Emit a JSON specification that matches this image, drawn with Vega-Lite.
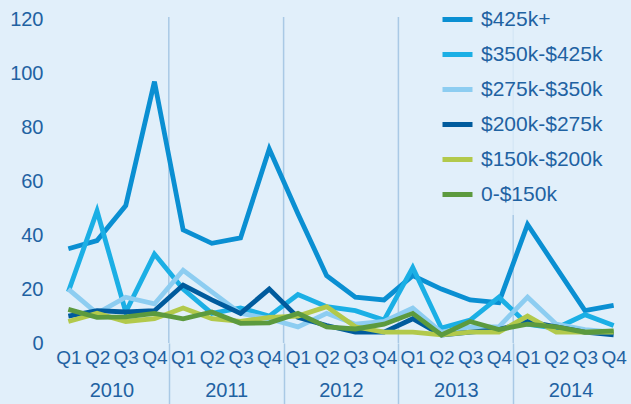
{
  "$schema": "https://vega.github.io/schema/vega-lite/v6.json",
  "width": 574,
  "height": 326,
  "autosize": {"type": "none"},
  "padding": {"left": 54, "top": 17, "right": 3, "bottom": 61},
  "background": "#E1EFFA",
  "config": {
    "view": {"stroke": null},
    "font": "Liberation Sans",
    "axis": {"labelColor": "#1F62A2", "labelFont": "Liberation Sans", "title": null, "domain": false, "ticks": false, "grid": false}
  },
  "datasets": {
    "series": [
      {"q":0,"s":"$425k+","v":35},{"q":1,"s":"$425k+","v":38},{"q":2,"s":"$425k+","v":51},{"q":3,"s":"$425k+","v":97},
      {"q":4,"s":"$425k+","v":42},{"q":5,"s":"$425k+","v":37},{"q":6,"s":"$425k+","v":39},{"q":7,"s":"$425k+","v":72},
      {"q":8,"s":"$425k+","v":48},{"q":9,"s":"$425k+","v":25},{"q":10,"s":"$425k+","v":17},{"q":11,"s":"$425k+","v":16},
      {"q":12,"s":"$425k+","v":25},{"q":13,"s":"$425k+","v":20},{"q":14,"s":"$425k+","v":16},{"q":15,"s":"$425k+","v":15},
      {"q":16,"s":"$425k+","v":44},{"q":17,"s":"$425k+","v":28},{"q":18,"s":"$425k+","v":12},{"q":19,"s":"$425k+","v":14},

      {"q":0,"s":"$350k-$425k","v":19},{"q":1,"s":"$350k-$425k","v":49},{"q":2,"s":"$350k-$425k","v":11.5},{"q":3,"s":"$350k-$425k","v":33},
      {"q":4,"s":"$350k-$425k","v":20},{"q":5,"s":"$350k-$425k","v":11},{"q":6,"s":"$350k-$425k","v":13},{"q":7,"s":"$350k-$425k","v":10},
      {"q":8,"s":"$350k-$425k","v":18},{"q":9,"s":"$350k-$425k","v":13.5},{"q":10,"s":"$350k-$425k","v":12},{"q":11,"s":"$350k-$425k","v":8.5},
      {"q":12,"s":"$350k-$425k","v":28},{"q":13,"s":"$350k-$425k","v":5.5},{"q":14,"s":"$350k-$425k","v":8.5},{"q":15,"s":"$350k-$425k","v":17},
      {"q":16,"s":"$350k-$425k","v":7},{"q":17,"s":"$350k-$425k","v":5.5},{"q":18,"s":"$350k-$425k","v":10.5},{"q":19,"s":"$350k-$425k","v":6.5},

      {"q":0,"s":"$275k-$350k","v":20},{"q":1,"s":"$275k-$350k","v":11},{"q":2,"s":"$275k-$350k","v":17},{"q":3,"s":"$275k-$350k","v":14.5},
      {"q":4,"s":"$275k-$350k","v":27},{"q":5,"s":"$275k-$350k","v":19},{"q":6,"s":"$275k-$350k","v":11},{"q":7,"s":"$275k-$350k","v":9},
      {"q":8,"s":"$275k-$350k","v":6},{"q":9,"s":"$275k-$350k","v":11},{"q":10,"s":"$275k-$350k","v":7},{"q":11,"s":"$275k-$350k","v":8},
      {"q":12,"s":"$275k-$350k","v":13},{"q":13,"s":"$275k-$350k","v":4},{"q":14,"s":"$275k-$350k","v":6},{"q":15,"s":"$275k-$350k","v":6},
      {"q":16,"s":"$275k-$350k","v":17},{"q":17,"s":"$275k-$350k","v":7},{"q":18,"s":"$275k-$350k","v":5},{"q":19,"s":"$275k-$350k","v":4},

      {"q":0,"s":"$200k-$275k","v":10},{"q":1,"s":"$200k-$275k","v":12},{"q":2,"s":"$200k-$275k","v":11.5},{"q":3,"s":"$200k-$275k","v":12},
      {"q":4,"s":"$200k-$275k","v":21.5},{"q":5,"s":"$200k-$275k","v":16},{"q":6,"s":"$200k-$275k","v":11},{"q":7,"s":"$200k-$275k","v":20},
      {"q":8,"s":"$200k-$275k","v":9.5},{"q":9,"s":"$200k-$275k","v":6.5},{"q":10,"s":"$200k-$275k","v":4},{"q":11,"s":"$200k-$275k","v":4},
      {"q":12,"s":"$200k-$275k","v":9},{"q":13,"s":"$200k-$275k","v":3},{"q":14,"s":"$200k-$275k","v":4},{"q":15,"s":"$200k-$275k","v":5},
      {"q":16,"s":"$200k-$275k","v":8},{"q":17,"s":"$200k-$275k","v":6},{"q":18,"s":"$200k-$275k","v":4},{"q":19,"s":"$200k-$275k","v":3},

      {"q":0,"s":"$150k-$200k","v":8},{"q":1,"s":"$150k-$200k","v":11},{"q":2,"s":"$150k-$200k","v":8},{"q":3,"s":"$150k-$200k","v":9},
      {"q":4,"s":"$150k-$200k","v":13},{"q":5,"s":"$150k-$200k","v":9},{"q":6,"s":"$150k-$200k","v":8},{"q":7,"s":"$150k-$200k","v":9.5},
      {"q":8,"s":"$150k-$200k","v":10},{"q":9,"s":"$150k-$200k","v":13.5},{"q":10,"s":"$150k-$200k","v":6},{"q":11,"s":"$150k-$200k","v":4},
      {"q":12,"s":"$150k-$200k","v":4},{"q":13,"s":"$150k-$200k","v":3},{"q":14,"s":"$150k-$200k","v":4},{"q":15,"s":"$150k-$200k","v":4},
      {"q":16,"s":"$150k-$200k","v":10},{"q":17,"s":"$150k-$200k","v":4},{"q":18,"s":"$150k-$200k","v":4},{"q":19,"s":"$150k-$200k","v":4},

      {"q":0,"s":"0-$150k","v":12.5},{"q":1,"s":"0-$150k","v":9.5},{"q":2,"s":"0-$150k","v":9.7},{"q":3,"s":"0-$150k","v":11},
      {"q":4,"s":"0-$150k","v":9},{"q":5,"s":"0-$150k","v":11.5},{"q":6,"s":"0-$150k","v":7.3},{"q":7,"s":"0-$150k","v":7.5},
      {"q":8,"s":"0-$150k","v":11},{"q":9,"s":"0-$150k","v":6},{"q":10,"s":"0-$150k","v":5.2},{"q":11,"s":"0-$150k","v":7},
      {"q":12,"s":"0-$150k","v":11},{"q":13,"s":"0-$150k","v":3},{"q":14,"s":"0-$150k","v":8},{"q":15,"s":"0-$150k","v":5},
      {"q":16,"s":"0-$150k","v":7},{"q":17,"s":"0-$150k","v":6},{"q":18,"s":"0-$150k","v":4},{"q":19,"s":"0-$150k","v":4.5}
    ],
    "years": [
      {"c":1.5,"year":"2010"},{"c":5.5,"year":"2011"},{"c":9.5,"year":"2012"},{"c":13.5,"year":"2013"},{"c":17.5,"year":"2014"}
    ],
    "seps": [{"b":3.5},{"b":7.5},{"b":11.5},{"b":15.5}]
  },
  "layer": [
    {
      "data": {"name": "seps"},
      "mark": {"type": "rule", "color": "#A9C9E5", "strokeWidth": 1.5},
      "encoding": {
        "x": {
          "field": "b", "type": "quantitative",
          "scale": {"domain": [-0.5, 19.5], "nice": false, "zero": false},
          "axis": {"orient": "bottom", "values": [3.5, 7.5, 11.5, 15.5], "labels": false, "ticks": true, "tickSize": 61, "tickColor": "#A9C9E5", "tickWidth": 1.5}
        }
      }
    },
    {
      "data": {"name": "years"},
      "mark": {"type": "point", "opacity": 0},
      "encoding": {
        "x": {
          "field": "c", "type": "quantitative",
          "axis": {"orient": "bottom", "values": [1.5, 5.5, 9.5, 13.5, 17.5], "labelExpr": "toString(2010 + floor(datum.value / 4))", "labelFontSize": 20, "labelPadding": 37}
        }
      }
    },
    {
      "data": {"name": "series"},
      "mark": {"type": "line", "strokeWidth": 4.8, "strokeJoin": "miter"},
      "encoding": {
        "x": {
          "field": "q", "type": "quantitative",
          "axis": {"orient": "bottom", "values": [0,1,2,3,4,5,6,7,8,9,10,11,12,13,14,15,16,17,18,19], "labelExpr": "'Q' + (datum.value % 4 + 1)", "labelFontSize": 19, "labelPadding": 5}
        },
        "y": {
          "field": "v", "type": "quantitative",
          "scale": {"domain": [0, 121], "nice": false},
          "axis": {"values": [0, 20, 40, 60, 80, 100, 120], "labelFontSize": 20, "labelPadding": 11}
        },
        "color": {
          "field": "s", "type": "nominal",
          "scale": {
            "domain": ["$425k+", "$350k-$425k", "$275k-$350k", "$200k-$275k", "$150k-$200k", "0-$150k"],
            "range": ["#0A8FD2", "#1BAFE5", "#8DCDF1", "#005B9D", "#B2C94B", "#5C9A3E"]
          },
          "legend": {
            "title": null,
            "orient": "none",
            "legendX": 376,
            "legendY": -25,
            "padding": 10,
            "fillColor": "rgba(225,239,250,0.8)",
            "symbolType": "stroke",
            "symbolSize": 900,
            "symbolStrokeWidth": 5,
            "labelFontSize": 21,
            "labelColor": "#1F62A2",
            "labelOffset": 6,
            "rowPadding": 7
          }
        }
      }
    }
  ],
  "resolve": {"axis": {"x": "independent"}}
}
